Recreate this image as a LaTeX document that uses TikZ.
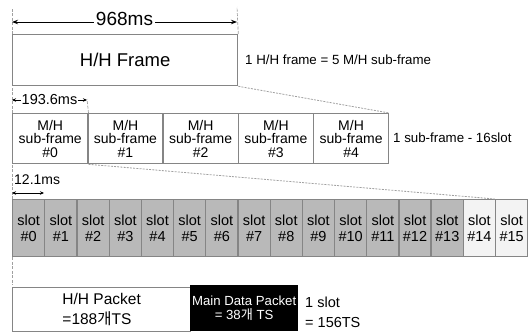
\documentclass[tikz,border=0pt]{standalone}
\usepackage{fontspec}
\setmainfont{Liberation Sans}
\newfontfamily\kr{Noto Sans CJK KR}
\usetikzlibrary{arrows.meta}
\definecolor{boxline}{HTML}{858585}
\definecolor{slotfill}{HTML}{B9B9B9}
\definecolor{slotlight}{HTML}{F3F3F3}
\definecolor{dashc}{HTML}{A0A0A0}
\begin{document}
\begin{tikzpicture}[x=1pt,y=-1pt,
  frame/.style={draw=boxline,line width=1.3pt,anchor=north west,inner sep=0pt},
  subbox/.style={frame,minimum width=75.2pt,minimum height=50pt,align=center,font=\fontsize{14}{13.6}\selectfont},
  slotbox/.style={frame,fill=slotfill,minimum width=32.19pt,minimum height=57pt,align=center,font=\fontsize{14.5}{16.5}\selectfont},
  lightslot/.style={slotbox,fill=slotlight},
  label/.style={anchor=west,inner sep=0pt,align=left},
  tick/.style={draw=dashc,line width=0.7pt,dash pattern=on 3pt off 1.5pt},
  zoomline/.style={draw=dashc,line width=0.8pt,dash pattern=on 2pt off 1.2pt},
  dim/.style={line width=1pt,{Stealth[length=6pt,width=4.5pt]}-{Stealth[length=6pt,width=4.5pt]}},
  smalldim/.style={line width=0.9pt,{Stealth[length=4pt,width=3.5pt]}-{Stealth[length=4pt,width=3.5pt]}}
]
\useasboundingbox (0,0) rectangle (529,332);

% H/H frame
\node[frame,minimum width=225pt,minimum height=51pt,font=\fontsize{18.5}{20}\selectfont] (hh) at (12,34) {H/H Frame};
\node[label,font=\fontsize{13.3}{15}\selectfont] (hhlab) at (245,60) {1 H/H frame = 5 M/H sub-frame};

% 968ms dimension
\coordinate (t1) at (12,7);
\coordinate (t2) at (237,7);
\draw[tick] (hh.north west) -- (t1);
\draw[tick] (hh.north east) -- (t2);
\coordinate (d1l) at (12,22);
\coordinate (d1r) at (237,22);
\draw[dim] (d1l) -- node[fill=white,inner sep=2pt,font=\fontsize{19}{20}\selectfont,yshift=3pt] (d968) {968ms} (d1r);

% sub-frames
\foreach \i in {0,...,4}{
  \node[subbox] (sf\i) at ({12+75.2*\i},113) {M/H\\sub-frame\\\#\i};
}
\node[label,font=\fontsize{13.3}{15}\selectfont] (sflab) at (393,138) {1 sub-frame - 16slot};

% 193.6ms dimension
\coordinate (t3) at (12,86);
\coordinate (t4) at (87,99);
\draw[tick] (sf0.north west) -- (t3);
\draw[tick] (sf0.north east) -- (t4);
\coordinate (d2l) at (12,100);
\coordinate (d2r) at (87,100);
\draw[smalldim] (d2l) -- node[fill=white,inner sep=0.6pt,font=\fontsize{14.5}{16}\selectfont] (d193) {193.6ms} (d2r);

% zoom lines
\draw[zoomline] (hh.south east) -- (sf4.north east);

% slots
\foreach \i in {0,...,13}{
  \node[slotbox] (s\i) at ({12+32.19*\i},199) {slot\\\#\i};
}
\node[lightslot] (s14) at ({12+32.19*14},199) {slot\\\#14};
\node[lightslot] (s15) at ({12+32.19*15},199) {slot\\\#15};

\draw[zoomline] (sf0.south east) -- (s15.north west);

% 12.1ms dimension
\coordinate (t5) at (12,165);
\draw[tick] (s0.north west) -- (t5);
\node[label,font=\fontsize{14}{15}\selectfont] (d121) at (14,180) {12.1ms};
\coordinate (d3l) at (12,193);
\coordinate (d3r) at (44,193);
\draw[smalldim] (d3l) -- (d3r);

% bottom packets
\coordinate (t6) at (12,285);
\draw[tick] (s0.south west) -- (t6);
\node[frame,minimum width=178pt,minimum height=44pt,align=left,font=\fontsize{15.5}{20}\selectfont] (hhp) at (12,287) {H/H Packet\\=188{\kr 개}TS};
\node[frame,draw=black,fill=black,text=white,minimum width=107pt,minimum height=45pt,align=center,font=\fontsize{13.2}{13.5}\selectfont] (mdp) at (190,285) {Main Data Packet\\= 38{\kr 개} TS};
\node[label,font=\fontsize{14.5}{20}\selectfont] (slab) at (305,312) {1 slot\\= 156TS};
\end{tikzpicture}
\end{document}
